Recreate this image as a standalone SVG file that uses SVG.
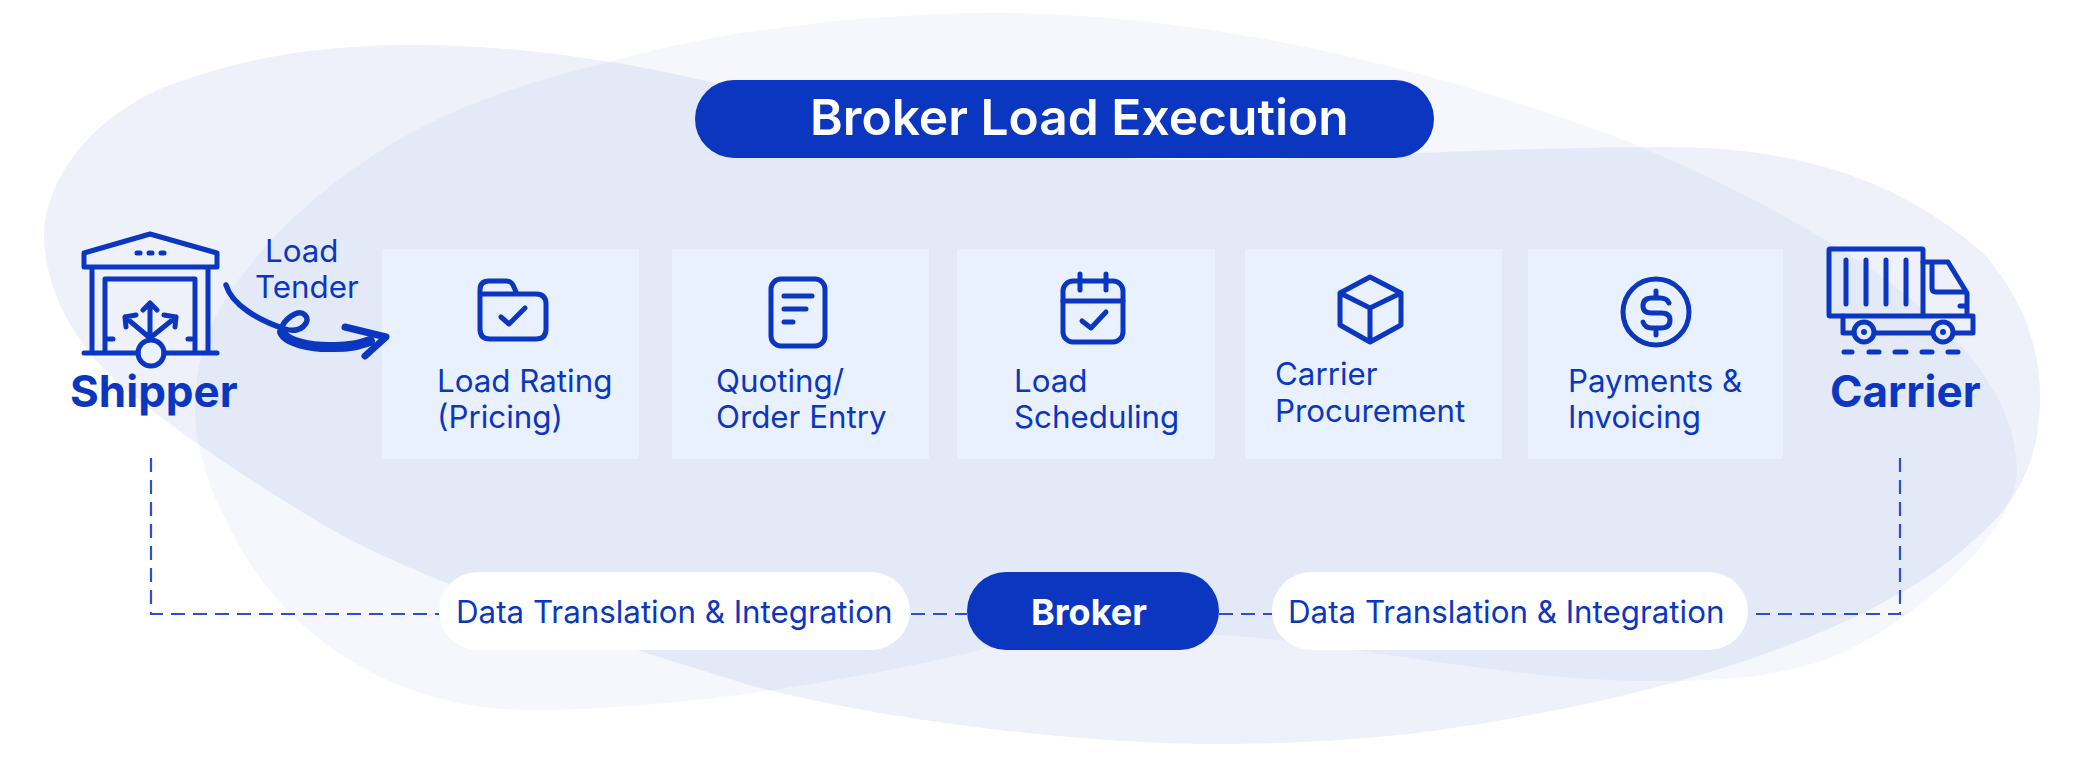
<svg xmlns="http://www.w3.org/2000/svg" xmlns:xlink="http://www.w3.org/1999/xlink" width="2075" height="778" viewBox="0 0 2075 778">
<style>
text{font-family:Inter,"Noto Sans","Liberation Sans",sans-serif;fill:#0b37c0}
.lb{font-size:31.3px;font-weight:400}
.hd{font-size:44px;font-weight:700}
.wt{fill:#fff;font-weight:600}
.ic{fill:none;stroke:#0b37c0;stroke-width:5;stroke-linecap:round;stroke-linejoin:round}
.box{fill:#eaf1fe}
.pb{fill:#0b37c0}
.pw{fill:#fff}
.dash{fill:none;stroke:#2a4fd6;stroke-width:2.2;stroke-dasharray:14 8}
</style>
<defs>
<path id="blobA" d="M44 233C48 170 100 112 170 85C250 55 330 45 411 45C520 45 610 60 703 80C850 112 1000 160 1200 160C1300 160 1500 147 1665 147C1800 147 1900 180 1983 253C2025 300 2040 350 2040 397C2040 450 2025 485 1997 518C1965 550 1935 575 1897 595C1800 650 1650 700 1433 731C1360 740 1290 744 1214 744C1100 744 900 725 749 685C620 645 420 585 312 518C250 480 180 435 123 387C75 345 44 290 44 233Z"/>
<path id="blobB" d="M995 13C1180 13 1400 55 1632 143C1800 215 2017 330 2017 470C2017 530 1920 620 1831 658C1770 680 1700 681 1650 681C1500 681 1340 640 1214 635C1130 620 1040 630 981 650C900 670 700 710 530 710C400 710 280 640 225 518C205 480 195 440 195 410C195 330 230 285 278 233C380 130 490 90 610 62C700 35 850 13 995 13Z"/>
<clipPath id="clipA"><use xlink:href="#blobA"/></clipPath>
</defs>
<rect width="2075" height="778" fill="#fff"/>
<g id="background">
<use xlink:href="#blobA" fill="#eef0fa"/>
<use xlink:href="#blobB" fill="#f5f7fc"/>
<use xlink:href="#blobB" fill="#e3e9f7" clip-path="url(#clipA)"/>
</g>
<g id="title"><rect class="pb" x="695" y="80" width="739" height="78" rx="39"/><text class="wt" x="810" y="135" style="font-size:49.7px">Broker Load Execution</text></g>
<g id="shipper">
<path class="ic" d="M84 267V253L150 234L217 253V267ZM92 267V353M208 267V353M84 353H138M164 353H217M105 353V279H195V353M105 339H113M188 339H195M150 338V303M143 310L150 303L157 310M150 338L125 317M126 327L125 317L136 315M150 338L176 317M164 315L176 317L175 327"/>
<circle class="ic" cx="151" cy="353" r="13"/>
<path class="ic" d="M137 253h3M149 253h3M161 253h3"/>
<text class="hd" x="70" y="407">Shipper</text>
</g>
<g id="load-tender"><text class="lb" x="265" y="262">Load</text><text class="lb" x="255" y="298">Tender</text></g>
<g id="load-rating"><rect class="box" x="382" y="249" width="257" height="210"/>
<path class="ic" d="M480 290Q480 281 489 281H506Q511 281 513 285L517 294H536Q546 294 546 304V329Q546 339 536 339H490Q480 339 480 329ZM480 294H517M501 317L509 324L525 308"/>
<text class="lb" x="437" y="392">Load Rating</text><text class="lb" x="437" y="428">(Pricing)</text></g>
<g id="quoting"><rect class="box" x="672" y="249" width="257" height="210"/>
<rect class="ic" x="771" y="279" width="54" height="67" rx="10"/><path class="ic" d="M784 296H812M784 309H806M784 322H793"/>
<text class="lb" x="716" y="392">Quoting/</text><text class="lb" x="716" y="428">Order Entry</text></g>
<g id="load-scheduling"><rect class="box" x="957" y="249" width="258" height="210"/>
<rect class="ic" x="1063" y="281" width="60" height="61" rx="10"/><path class="ic" d="M1063 301H1123M1080 274V290M1106 274V290M1082 321L1091 328L1106 312"/>
<text class="lb" x="1014" y="392">Load</text><text class="lb" x="1014" y="428">Scheduling</text></g>
<g id="carrier-procurement"><rect class="box" x="1245" y="249" width="257" height="210"/>
<path class="ic" d="M1370 277L1401 293V325L1370 342L1340 325V293ZM1340 293L1370 308L1401 293M1370 308V342"/>
<text class="lb" x="1275" y="385">Carrier</text><text class="lb" x="1275" y="422">Procurement</text></g>
<g id="payments"><rect class="box" x="1528" y="249" width="255" height="210"/>
<circle class="ic" cx="1656" cy="312" r="33"/><path class="ic" d="M1669 303Q1667 298 1660 298H1652Q1643 298 1643 306Q1643 313 1652 313H1661Q1670 313 1670 320Q1670 328 1661 328H1652Q1645 328 1643 322M1656 291V298M1656 328V335"/>
<text class="lb" x="1568" y="392">Payments &amp;</text><text class="lb" x="1568" y="428">Invoicing</text></g>
<g id="carrier">
<rect class="ic" x="1829" y="249" width="94" height="67" rx="1"/>
<path class="ic" d="M1846 260V304M1866 260V304M1886 260V304M1906 260V304M1923 262H1948L1967 293V315M1932 263V288Q1932 292 1936 292H1965M1960 306H1966M1843 316V333H1854M1875 333H1932M1954 333H1973V316H1923"/>
<circle class="ic" cx="1864" cy="332" r="10"/><circle class="ic" cx="1943" cy="332" r="10"/>
<circle class="pb" cx="1864" cy="332" r="3"/><circle class="pb" cx="1943" cy="332" r="3"/>
<path class="ic" d="M1844 352H1852M1869 352H1879M1895 352H1906M1922 352H1932M1948 352H1958"/>
<text class="hd" x="1830" y="407">Carrier</text>
</g>
<g id="pill-left"><rect class="pw" x="439" y="572" width="471" height="78" rx="39"/><text class="lb" x="456" y="623">Data Translation &amp; Integration</text></g>
<g id="broker"><rect class="pb" x="967" y="572" width="252" height="78" rx="39"/><text class="wt" x="1031" y="625" style="font-size:36px;font-weight:700">Broker</text></g>
<g id="pill-right"><rect class="pw" x="1272" y="572" width="476" height="78" rx="39"/><text class="lb" x="1288" y="623">Data Translation &amp; Integration</text></g>
<g id="connectors">
<path class="dash" d="M151 458V614H439"/>
<path class="dash" d="M911 614H967"/>
<path class="dash" d="M1219 614H1272"/>
<path class="dash" d="M1900 458V614H1749"/>
<path id="load-tender-arrow" fill="none" stroke="#0b37c0" stroke-linecap="round" stroke-width="5.5" d="M226 285C232 305 258 320 285 329C300 334 312 322 305 315C298 308 283 320 281 330"/>
<path fill="none" stroke="#0b37c0" stroke-linecap="round" stroke-width="10" d="M282 332C286 342 310 348 335 347C350 347 358 345 370 341"/>
<path fill="none" stroke="#0b37c0" stroke-linecap="round" stroke-linejoin="round" stroke-width="7" d="M345 327L386 337L365 356"/>
</g>
</svg>
